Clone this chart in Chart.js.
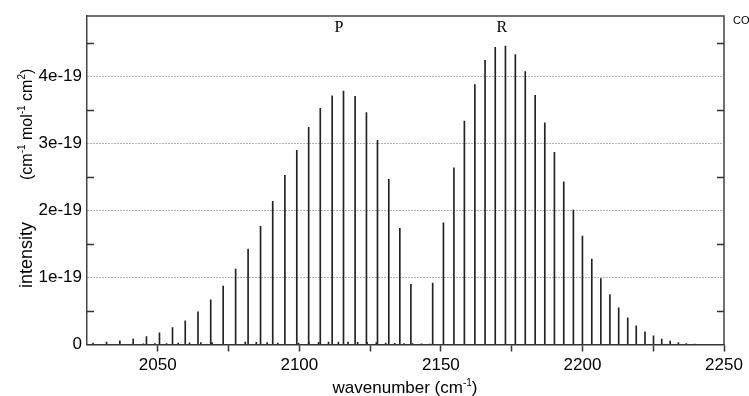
<!DOCTYPE html>
<html>
<head>
<meta charset="utf-8">
<title>CO</title>
<script src="https://cdn.jsdelivr.net/npm/chart.js@4/dist/chart.umd.min.js"></script>
<style>
  html, body { margin: 0; padding: 0; background: #fff; }
  canvas { display: block; }
</style>
</head>
<body>
<canvas id="spec" width="749" height="396"></canvas>
<script>
// CO fundamental band stick spectrum; intensities are in units of 1e-19
const pBranchPos = [2139.4, 2135.5, 2131.6, 2127.6, 2123.7, 2119.7, 2115.6, 2111.6, 2107.4, 2103.3, 2099.1, 2094.9, 2090.6, 2086.3,
  2081.9, 2077.5, 2073.1, 2068.7, 2064.2, 2059.7, 2055.2, 2050.6, 2046.0, 2041.3, 2036.6, 2031.9, 2027.1];
const pBranchInt = [0.896, 1.731, 2.463, 3.045, 3.458, 3.701, 3.781, 3.711, 3.522, 3.239, 2.896, 2.522, 2.134, 1.761,
  1.423, 1.126, 0.873, 0.665, 0.486, 0.352, 0.253, 0.174, 0.12, 0.08, 0.055, 0.035, 0.02];

const rBranchPos = [2147.1, 2150.9, 2154.6, 2158.3, 2162.0, 2165.6, 2169.2, 2172.8, 2176.3, 2179.8, 2183.3, 2186.7, 2190.1, 2193.4,
  2196.8, 2200.0, 2203.3, 2206.5, 2209.7, 2212.8, 2216.0, 2219.0, 2222.1, 2225.1, 2228.0, 2231.0, 2233.9, 2236.7, 2239.6];
const rBranchInt = [0.915, 1.816, 2.637, 3.333, 3.876, 4.239, 4.433, 4.453, 4.323, 4.070, 3.716, 3.308, 2.866, 2.428,
  2.005, 1.617, 1.274, 0.985, 0.746, 0.547, 0.398, 0.279, 0.189, 0.129, 0.080, 0.050, 0.030, 0.015, 0.008];

// weak isotopologue lines sitting on the baseline
const isoPos = [2044.9, 2049.0, 2053.1, 2057.2, 2061.2, 2065.2, 2069.2, 2080.9, 2084.8, 2088.6, 2092.4,
  2099.7, 2103.3, 2106.8, 2110.3, 2113.8, 2117.2, 2120.6, 2123.9, 2127.2, 2130.5, 2133.7, 2136.9, 2140.0, 2143.1, 2146.2];
const isoInt = [0.010, 0.012, 0.015, 0.020, 0.025, 0.028, 0.030, 0.035, 0.034, 0.030, 0.020,
  0.020, 0.028, 0.033, 0.036, 0.037, 0.036, 0.034, 0.031, 0.027, 0.023, 0.019, 0.015, 0.012, 0.009, 0.007];

const xTicks = [2050, 2075, 2100, 2125, 2150, 2175, 2200, 2225, 2250];
const yTicks = [0, 0.5, 1, 1.5, 2, 2.5, 3, 3.5, 4, 4.5];
const branchLabels = ['P', 'R'];
const branchLabelPos = [2114, 2171.5];

const SANS = "'Liberation Sans', Arial, sans-serif";
const SERIF = "'Liberation Serif', 'Times New Roman', serif";

const pts = (xs, ys) => xs.map((x, i) => ({ x, y: ys[i] }));
const mainLines = pts(pBranchPos.slice().reverse(), pBranchInt.slice().reverse()).concat(pts(rBranchPos, rBranchInt));

// draws runs of text, some of them raised as superscripts
function drawRuns(ctx, runs, x, y, size) {
  let cx = x;
  runs.forEach(([txt, sup]) => {
    ctx.font = (sup ? Math.round(size * 0.6) : size) + 'px ' + SANS;
    ctx.fillText(txt, cx, sup ? y - size * 0.42 : y);
    cx += ctx.measureText(txt).width;
  });
  return cx - x;
}
function runsWidth(ctx, runs, size) {
  let w = 0;
  runs.forEach(([txt, sup]) => {
    ctx.font = (sup ? Math.round(size * 0.6) : size) + 'px ' + SANS;
    w += ctx.measureText(txt).width;
  });
  return w;
}

const decor = {
  id: 'decor',
  afterDraw(chart) {
    const { ctx, chartArea: a, scales: { x, y } } = chart;
    ctx.save();
    // top and right frame
    ctx.strokeStyle = '#444'; ctx.lineWidth = 1.5;
    ctx.beginPath();
    ctx.moveTo(a.left, a.top); ctx.lineTo(a.right, a.top); ctx.lineTo(a.right, a.bottom);
    ctx.stroke();
    // inward minor ticks on both vertical axes
    ctx.strokeStyle = '#333'; ctx.lineWidth = 1.5;
    yTicks.filter(v => !Number.isInteger(v)).forEach(v => {
      const py = Math.round(y.getPixelForValue(v)) + 0.5;
      ctx.beginPath();
      ctx.moveTo(a.left, py); ctx.lineTo(a.left + 7, py);
      ctx.moveTo(a.right - 7, py); ctx.lineTo(a.right, py);
      ctx.stroke();
    });
    ctx.fillStyle = '#000';
    // branch names
    ctx.font = '16px ' + SERIF; ctx.textAlign = 'center'; ctx.textBaseline = 'alphabetic';
    branchLabels.forEach((t, i) => ctx.fillText(t, x.getPixelForValue(branchLabelPos[i]), 32));
    // molecule tag
    ctx.font = '11px ' + SANS; ctx.textAlign = 'left';
    ctx.fillText('CO', 733, 24);
    // x title
    const xRuns = [['wavenumber (cm', false], ['-1', true], [')', false]];
    const xw = runsWidth(ctx, xRuns, 17);
    drawRuns(ctx, xRuns, 405 - xw / 2, 393, 17);
    // y title, rotated
    ctx.save();
    ctx.translate(32, 288); ctx.rotate(-Math.PI / 2);
    ctx.font = '18px ' + SANS;
    ctx.fillText('intensity', 0, 0);
    ctx.restore();
    ctx.save();
    ctx.translate(32, 180); ctx.rotate(-Math.PI / 2);
    drawRuns(ctx, [['(cm', false], ['-1', true], [' mol', false], ['-1', true], [' cm', false], ['2', true], [')', false]], 0, 0, 16);
    ctx.restore();
    ctx.restore();
  }
};

new Chart(document.getElementById('spec'), {
  type: 'bar',
  data: {
    datasets: [
      { data: pts(isoPos, isoInt), backgroundColor: '#222', barThickness: 1, grouped: false },
      { data: mainLines, backgroundColor: '#222', barThickness: 1, grouped: false }
    ]
  },
  options: {
    responsive: false,
    animation: false,
    devicePixelRatio: 1,
    layout: { padding: { top: 16, right: 25, left: 0, bottom: 0 } },
    plugins: { legend: { display: false }, tooltip: { enabled: false } },
    scales: {
      x: {
        type: 'linear', min: 2025, max: 2250, offset: false,
        afterBuildTicks: s => { s.ticks = xTicks.map(v => ({ value: v })); },
        afterFit: s => { s.height = 51.5; },
        ticks: {
          autoSkip: false, maxRotation: 0, padding: 4, color: '#000',
          font: { family: SANS, size: 17 },
          callback: v => (v % 50 === 0 ? String(v) : '')
        },
        grid: { offset: false, drawOnChartArea: false, drawTicks: true, tickLength: 7, tickColor: '#333', tickWidth: 1.5 },
        border: { color: '#333', width: 1.5 }
      },
      y: {
        min: 0, max: 4.9,
        afterBuildTicks: s => { s.ticks = yTicks.map(v => ({ value: v })); },
        afterFit: s => { s.width = 87; },
        ticks: {
          padding: 5, color: '#000',
          font: { family: SANS, size: 17 },
          callback: v => (v === 0 ? '0' : Number.isInteger(v) ? v + 'e-19' : '')
        },
        grid: {
          drawTicks: false, lineWidth: 1,
          color: c => (c.tick && c.tick.value > 0 && Number.isInteger(c.tick.value) ? '#666' : 'rgba(0,0,0,0)')
        },
        border: { color: '#444', width: 1.5, dash: [1, 2] }
      }
    }
  },
  plugins: [decor]
});
</script>
</body>
</html>
